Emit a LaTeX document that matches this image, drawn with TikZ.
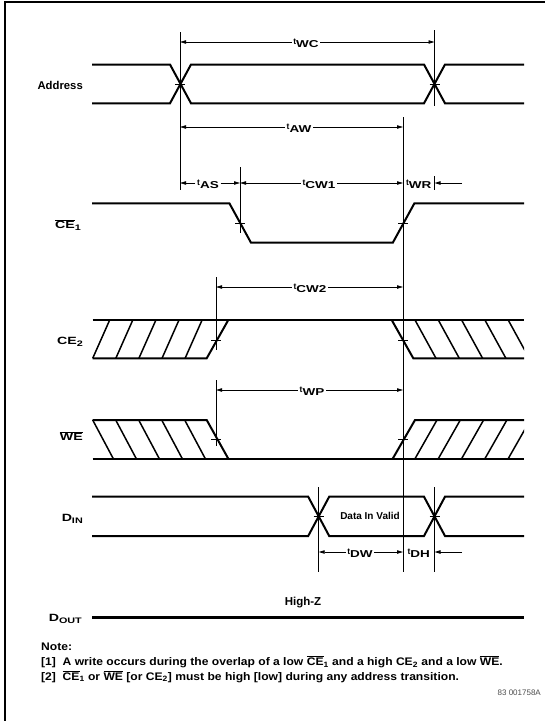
\documentclass[tikz,border=0pt]{standalone}
\usepackage{fontspec}
\setmainfont{Liberation Sans}
\newfontfamily\widefont[FakeStretch=1.35]{Liberation Sans}
\newfontfamily\notefont[FakeStretch=1.1]{Liberation Sans}
\usetikzlibrary{arrows.meta}
\newcommand{\tlab}[1]{\raisebox{3.4pt}{\fontsize{8.5}{9}\selectfont\bfseries t}{\widefont\bfseries\fontsize{10}{10}\selectfont #1}}
\newcommand{\ovl}[1]{$\overline{\mbox{#1}}$}
\newcommand{\sub}[1]{\raisebox{-1.6pt}{\fontsize{8}{8}\selectfont #1}}
\begin{document}
\begin{tikzpicture}[x=1pt,y=-1pt,
  sig/.style={line width=2pt, line join=miter},
  thick3/.style={line width=3pt},
  vline/.style={line width=0.9pt},
  dim/.style={line width=0.8pt, -{Triangle[length=6pt,width=3.4pt]}},
  hatch/.style={line width=1.5pt},
  lab/.style={font=\bfseries\fontsize{11.3}{12}\selectfont, anchor=east, inner sep=0pt},
  wlab/.style={font=\widefont\bfseries\fontsize{10.5}{12}\selectfont, anchor=east, inner sep=0pt},
  tl/.style={inner xsep=1.6pt, inner ysep=0pt, anchor=base},
  tick/.style={line width=0.9pt},
  note/.style={font=\notefont\bfseries\fontsize{11}{13}\selectfont, anchor=base west, inner sep=0pt}]
\useasboundingbox (0,0) rectangle (545,721);
% frame
\draw[line width=1.5pt] (5,721) -- (5,2) -- (545,2);

% ---------------- signals
% Address
\draw[sig] (92,64.5) -- (170,64.5) -- (191,103.3) -- (424,103.3) -- (445,64.5) -- (524,64.5);
\draw[sig] (92,103.3) -- (170,103.3) -- (191,64.5) -- (424,64.5) -- (445,103.3) -- (524,103.3);
% CE1
\draw[sig] (92,203.3) -- (229.4,203.3) -- (251,242.7) -- (392.8,242.7) -- (414.4,203.3) -- (524,203.3);
% CE2
\draw[sig] (92.7,320) -- (524,320);
\draw[sig] (92.7,358.3) -- (206.7,358.3) -- (228.3,320);
\draw[sig] (391.7,320) -- (413.3,358.3) -- (524,358.3);
\foreach \i in {0,...,4} \draw[hatch] ({92.7+23.1*\i},358.3) -- ({109.7+23.1*\i},320);
\begin{scope}
  \clip (380,310) rectangle (524,370);
  \foreach \i in {0,...,4} \draw[hatch] ({415+23.3*\i},320) -- ({436+23.3*\i},358.3);
\end{scope}
% WE
\draw[sig] (92.7,458.7) -- (524,458.7);
\draw[sig] (92.7,420) -- (206.7,420) -- (228.3,458.7);
\draw[sig] (392.7,458.7) -- (415,420) -- (524,420);
\foreach \i in {0,...,4} \draw[hatch] ({92.7+23*\i},420) -- ({113.3+23*\i},458.7);
\begin{scope}
  \clip (380,410) rectangle (524,470);
  \foreach \i in {0,...,4} \draw[hatch] ({415+23.3*\i},458.7) -- ({437+23.3*\i},420);
\end{scope}
% DIN
\draw[sig] (92,496.7) -- (308.2,496.7) -- (329.2,536) -- (424,536) -- (445,496.7) -- (524,496.7);
\draw[sig] (92,536) -- (308.2,536) -- (329.2,496.7) -- (424,496.7) -- (445,536) -- (524,536);
% DOUT
\draw[thick3] (92,617.7) -- (524,617.7);

% ---------------- vertical reference lines
\draw[vline] (180,32) -- (180,190);
\draw[vline] (434.5,30) -- (434.5,106);
\draw[vline] (434.5,176) -- (434.5,190);
\draw[vline] (403,117) -- (403,572);
\draw[vline] (240,167) -- (240,233);
\draw[vline] (216,277) -- (216,350);
\draw[vline] (216,380) -- (216,446);
\draw[vline] (318.7,487) -- (318.7,572);
\draw[vline] (434.5,487) -- (434.5,572);

% crossing ticks
\foreach \p in {(180,84),(434.5,84),(240,223),(403,223),(216,340),(403,340),(216,439),(403,439),(318.7,516.3),(434.5,516.3)}
  \draw[tick] \p ++(-5,0) -- ++(10,0);

% ---------------- dimension coordinates
\coordinate (wcL) at (180,42);   \coordinate (wcR) at (434.5,42);
\coordinate (awL) at (180,127);  \coordinate (awR) at (403,127);
\coordinate (asL) at (180,183);  \coordinate (asR) at (240,183);
\coordinate (cw1R) at (403,183);
\coordinate (wrS) at (462,183);  \coordinate (wrE) at (434.5,183);
\coordinate (cw2L) at (216,287); \coordinate (cw2R) at (403,287);
\coordinate (wpL) at (216,390);  \coordinate (wpR) at (403,390);
\coordinate (dwL) at (318.7,552); \coordinate (dwR) at (403,552);
\coordinate (dhS) at (462,552);  \coordinate (dhE) at (434.5,552);

\node[tl] (twc) at (306,47.4) {\tlab{WC}};
\draw[dim] (twc.west |- wcL) -- (wcL);
\draw[dim] (twc.east |- wcR) -- (wcR);
\node[tl] (taw) at (299,132.4) {\tlab{AW}};
\draw[dim] (taw.west |- awL) -- (awL);
\draw[dim] (taw.east |- awR) -- (awR);
\node[tl] (tas) at (208,188.4) {\tlab{AS}};
\draw[dim] (tas.west |- asL) -- (asL);
\draw[dim] (tas.east |- asR) -- (asR);
\node[tl] (tcw1) at (319,188.4) {\tlab{CW1}};
\draw[dim] (tcw1.west |- asR) -- (asR);
\draw[dim] (tcw1.east |- cw1R) -- (cw1R);
\node[tl] (twr) at (418.7,188.4) {\tlab{WR}};
\draw[dim] (wrS) -- (wrE);
\node[tl] (tcw2) at (310,292.4) {\tlab{CW2}};
\draw[dim] (tcw2.west |- cw2L) -- (cw2L);
\draw[dim] (tcw2.east |- cw2R) -- (cw2R);
\node[tl] (twp) at (312,395.4) {\tlab{WP}};
\draw[dim] (twp.west |- wpL) -- (wpL);
\draw[dim] (twp.east |- wpR) -- (wpR);
\node[tl] (tdw) at (360,557.4) {\tlab{DW}};
\draw[dim] (tdw.west |- dwL) -- (dwL);
\draw[dim] (tdw.east |- dwR) -- (dwR);
\node[tl] (tdh) at (418.7,557.4) {\tlab{DH}};
\draw[dim] (dhS) -- (dhE);

% ---------------- signal labels
\node[lab] (laddr) at (83,85) {Address};
\node[wlab] (lce1) at (81,225) {\ovl{CE}\sub{1}};
\node[wlab] (lce2) at (83,342) {CE\sub{2}};
\node[wlab] (lwe) at (83,436) {\ovl{WE}};
\node[wlab] (ldin) at (83,519) {D\sub{IN}};
\node[wlab] (ldout) at (82,619) {D\sub{OUT}};
\node[font=\bfseries\fontsize{10}{12}\selectfont, inner sep=0pt] (valid) at (370,516.3) {Data In Valid};
\node[font=\bfseries\fontsize{11.5}{12}\selectfont, inner sep=0pt] (hz) at (303,603) {High-Z};

% ---------------- notes
\node[note] (n0) at (41,650.5) {Note:};
\node[note] (n1) at (41,665.5) {[1]\ \ A write occurs during the overlap of a low \ovl{CE}\textsubscript{1} and a high CE\textsubscript{2} and a low \ovl{WE}.};
\node[note] (n2) at (41,680) {[2]\ \ \ovl{CE}\textsubscript{1} or \ovl{WE} [or CE\textsubscript{2}] must be high [low] during any address transition.};
\node[font=\fontsize{8}{9}\selectfont, anchor=east, inner sep=0pt, text=black!70] (code) at (541,693) {83 001758A};
\end{tikzpicture}
\end{document}
